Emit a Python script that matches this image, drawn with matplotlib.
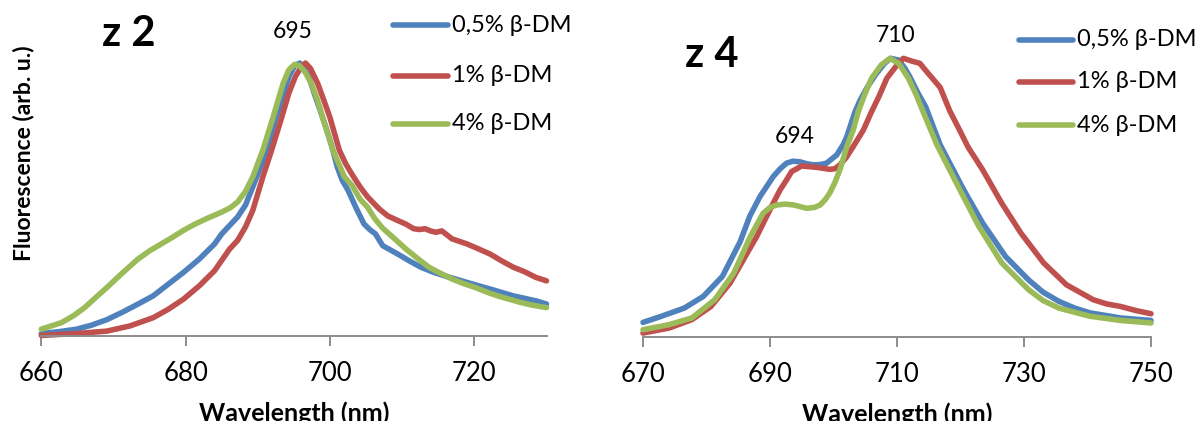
import matplotlib
matplotlib.use('Agg')
import matplotlib.pyplot as plt
from matplotlib.lines import Line2D

plt.rcParams['font.family'] = ['Lato', 'DejaVu Sans']

blue = '#4F81BD'
red = '#C0504D'
green = '#9BBB59'
labels = ['0,5% β-DM', '1% β-DM', '4% β-DM']

# z 2 spectra (normalised)
z2_blue_x = [660, 662.5, 664.9, 667, 669.1, 671.3, 673.4, 675.5, 677.6, 679.7, 681.9, 684.0,
             685.0, 687.2, 688.3, 689.3, 690.4, 691.4, 692.4, 693.5, 694.3, 695.1, 695.8,
             696.5, 697.2, 697.8, 698.6, 699.4, 700.2, 701.0, 701.7, 702.5, 703.6, 704.7,
             705.5, 706.3, 707.3, 709.4, 711, 712.6, 714.2, 715.8, 719.0, 722.2, 725.4,
             728.5, 730]
z2_blue_y = [0.009, 0.016, 0.025, 0.04, 0.06, 0.088, 0.117, 0.147, 0.19, 0.233, 0.282, 0.337,
             0.374, 0.436, 0.48, 0.546, 0.62, 0.693, 0.79, 0.877, 0.95, 0.99, 1.0,
             0.98, 0.94, 0.89, 0.83, 0.767, 0.70, 0.62, 0.57, 0.534, 0.47, 0.411,
             0.39, 0.374, 0.331, 0.30, 0.275, 0.252, 0.235, 0.221, 0.196, 0.172, 0.147,
             0.129, 0.117]

z2_red_x = [660, 664.9, 669.1, 672.3, 675.5, 677.6, 679.7, 681.9, 684.0, 686.1, 687.2, 688.3,
            689.3, 690.7, 691.9, 693.3, 694.3, 695.2, 696.0, 696.6, 697.3, 698.3, 699.2,
            700.0, 701.3, 702.2, 703.1, 704.2, 705.2, 706.8, 708, 709.4, 710.5, 711.6,
            712.4, 713.2, 713.9, 714.7, 715.5, 716.9, 719.0, 720.5, 722.2, 723.8, 725.4,
            727, 728.5, 730]
z2_red_y = [0.002, 0.009, 0.018, 0.037, 0.067, 0.098, 0.135, 0.184, 0.239, 0.319, 0.35, 0.40,
            0.46, 0.583, 0.68, 0.80, 0.89, 0.95, 0.985, 1.0, 0.98, 0.925, 0.86,
            0.80, 0.68, 0.63, 0.59, 0.545, 0.51, 0.466, 0.44, 0.423, 0.41, 0.393,
            0.39, 0.393, 0.385, 0.38, 0.385, 0.356, 0.337, 0.32, 0.30, 0.275, 0.252,
            0.235, 0.215, 0.202]

z2_green_x = [660, 662.8, 664.5, 666.0, 667.5, 669.1, 671.2, 673.4, 675, 676.6, 678.2, 679.7,
              681.3, 682.9, 685.0, 686.2, 687.2, 688.3, 689.3, 690.7, 692.1, 693.5, 694.3,
              695.1, 695.8, 696.6, 697.4, 698.2, 699.0, 700.4, 702.0, 703.1, 704.2, 705.2,
              706.2, 707.3, 709, 710.5, 712.1, 713.7, 715.3, 716.9, 718.5, 720.1, 721.6,
              723.2, 724.8, 726.4, 728, 730]
z2_green_y = [0.025, 0.049, 0.075, 0.104, 0.14, 0.178, 0.23, 0.282, 0.312, 0.337, 0.362, 0.387,
              0.41, 0.43, 0.454, 0.47, 0.491, 0.53, 0.583, 0.681, 0.80, 0.925, 0.975,
              0.995, 0.99, 0.965, 0.925, 0.87, 0.80, 0.681, 0.583, 0.55, 0.50, 0.472,
              0.43, 0.395, 0.355, 0.319, 0.285, 0.252, 0.23, 0.209, 0.192, 0.178, 0.162,
              0.147, 0.135, 0.123, 0.113, 0.104]

# z 4 spectra (normalised)
z4_blue_x = [670, 672.9, 676.5, 679.5, 682.5, 685.3, 686.8, 688.4, 690.5, 691.6, 692.6, 693.6,
             694.7, 695.8, 696.8, 697.9, 698.9, 700.5, 701.5, 702.1, 703.4, 704.2, 705.3,
             706.6, 708, 709.0, 710.2, 711.2, 712.0, 713.3, 714.5, 716.8, 720.5, 723.5,
             727.1, 730.7, 733, 735.5, 738, 740.4, 745.2, 750]
z4_blue_y = [0.052, 0.074, 0.103, 0.145, 0.216, 0.34, 0.43, 0.50, 0.572, 0.60, 0.62, 0.627,
             0.625, 0.618, 0.614, 0.615, 0.62, 0.649, 0.685, 0.715, 0.804, 0.845, 0.89,
             0.935, 0.975, 0.994, 0.988, 0.96, 0.929, 0.87, 0.822, 0.685, 0.525, 0.406,
             0.287, 0.204, 0.16, 0.127, 0.103, 0.086, 0.068, 0.059]

z4_red_x = [670, 674.1, 677.7, 680.7, 683.7, 686.7, 687.9, 689.2, 690.5, 691.6, 692.6, 693.4,
            695.0, 697.4, 699.4, 700.2, 701.0, 702, 703.1, 704.7, 706.0, 707.2, 708.4,
            710.0, 711.0, 712.2, 713.6, 714.7, 716.8, 718.3, 719.9, 721.2, 723.5, 726.5,
            729.5, 733.1, 736.7, 740.9, 743, 745.2, 747.5, 750]
z4_red_y = [0.014, 0.032, 0.062, 0.109, 0.192, 0.311, 0.358, 0.418, 0.477, 0.525, 0.56, 0.59,
            0.61, 0.605, 0.598, 0.60, 0.614, 0.64, 0.679, 0.738, 0.804, 0.86, 0.923,
            0.97, 0.994, 0.985, 0.976, 0.946, 0.89, 0.807, 0.736, 0.677, 0.596, 0.477,
            0.371, 0.264, 0.186, 0.133, 0.118, 0.109, 0.095, 0.083]

z4_green_x = [670, 674.1, 677.7, 681.3, 684.3, 686.9, 688.9, 690.0, 691.1, 692.4, 693.7, 695.8,
              697.0, 697.9, 698.7, 699.4, 700.2, 701.0, 702.1, 703.1, 703.9, 705, 706.0,
              707.5, 708.9, 710.3, 711.8, 713, 714.1, 716.3, 719.9, 722.9, 726.5, 730.7,
              733, 735.5, 740.4, 745.2, 750]
z4_green_y = [0.026, 0.044, 0.068, 0.133, 0.228, 0.358, 0.441, 0.462, 0.471, 0.474, 0.471, 0.459,
              0.462, 0.471, 0.49, 0.513, 0.55, 0.596, 0.679, 0.738, 0.804, 0.87, 0.923,
              0.97, 0.994, 0.975, 0.923, 0.865, 0.804, 0.685, 0.525, 0.394, 0.264, 0.169,
              0.13, 0.103, 0.074, 0.059, 0.05]

z2_ticks = [660, 680, 700, 720]
z4_ticks = [670, 690, 710, 730, 750]

W, H = 1200, 421
fig = plt.figure(figsize=(W / 100, H / 100), dpi=100)
ax1 = fig.add_axes([41.3 / W, (H - 336) / H, 505.2 / W, 306 / H])
ax2 = fig.add_axes([643 / W, (H - 337) / H, 508 / W, 307 / H])


def style(ax, xlim, ticks, ytop):
    ax.set_xlim(*xlim)
    ax.set_ylim(0, ytop)
    ax.set_xticks(ticks)
    ax.set_yticks([])
    for s in ['top', 'right', 'left']:
        ax.spines[s].set_visible(False)
    ax.spines['bottom'].set_color('#8c8c8c')
    ax.spines['bottom'].set_linewidth(1.4)
    ax.tick_params(axis='x', direction='out', length=7, width=1.4, color='#8c8c8c',
                   labelsize=18.5, pad=11)
    ax.set_xlabel('Wavelength (nm)', fontsize=18, fontweight='bold', labelpad=11)


def legend(x0, x1, rows):
    # hand-placed legend entries, pixel positions from the top-left corner
    for lab, col, y in zip(labels, [blue, red, green], rows):
        fig.add_artist(Line2D([x0 / W, x1 / W], [1 - y / H, 1 - y / H], color=col,
                              linewidth=4, solid_capstyle='round'))
        fig.text((x1 + 4) / W, 1 - y / H, lab, fontsize=17, ha='left', va='center')


kw = dict(linewidth=4, solid_joinstyle='round', solid_capstyle='round', clip_on=False)

ax1.plot(z2_blue_x, z2_blue_y, color=blue, **kw)
ax1.plot(z2_red_x, z2_red_y, color=red, **kw)
ax1.plot(z2_green_x, z2_green_y, color=green, **kw)
style(ax1, (660, 730), z2_ticks, 1.121)
ax1.text(694.8, 1.117, '695', fontsize=16.5, ha='center', va='center')

ax2.plot(z4_blue_x, z4_blue_y, color=blue, **kw)
ax2.plot(z4_red_x, z4_red_y, color=red, **kw)
ax2.plot(z4_green_x, z4_green_y, color=green, **kw)
style(ax2, (670, 750), z4_ticks, 1.095)
ax2.text(709.8, 1.074, '710', fontsize=16.5, ha='center', va='center')
ax2.text(693.9, 0.7135, '694', fontsize=16.5, ha='center', va='center')

fig.text(102 / W, 1 - 46 / H, 'z 2', fontsize=30, fontweight='bold', ha='left', va='baseline')
fig.text(685 / W, 1 - 67 / H, 'z 4', fontsize=30, fontweight='bold', ha='left', va='baseline')

legend(393, 448, [25, 76, 124])
legend(1019, 1073, [40, 82, 125])

fig.text(24 / W, 1 - 153 / H, 'Fluorescence (arb. u.)', rotation=90, fontsize=16.5,
         fontweight='bold', ha='center', va='center')

fig.savefig('out.png', dpi=100)
